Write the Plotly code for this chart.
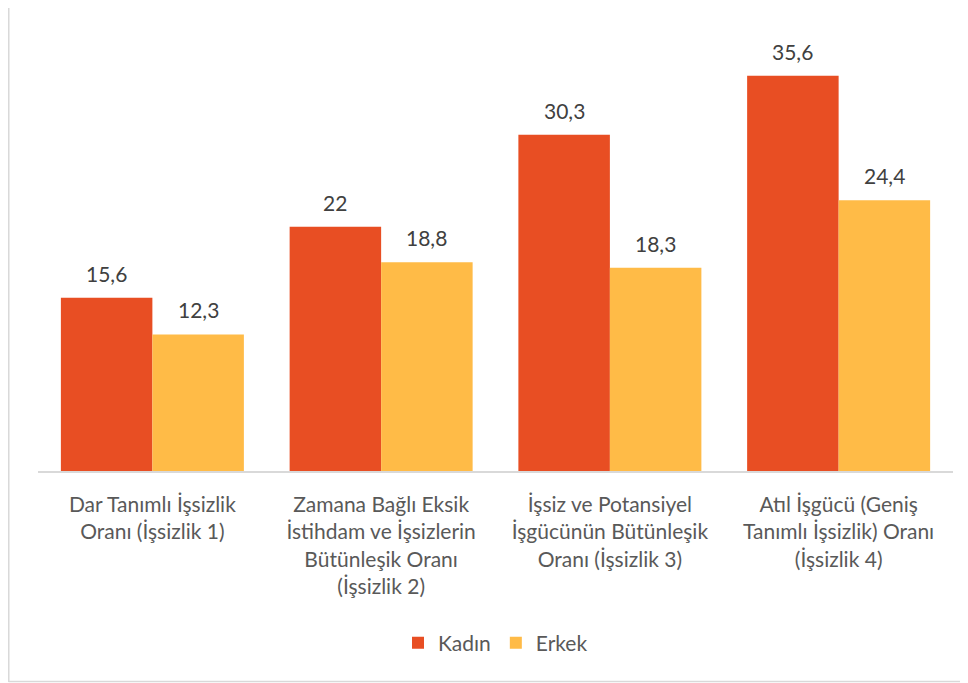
import plotly.graph_objects as go

categories = [
    "Dar Tanımlı İşsizlik<br>Oranı (İşsizlik 1)",
    "Zamana Bağlı Eksik<br>İstihdam ve İşsizlerin<br>Bütünleşik Oranı<br>(İşsizlik 2)",
    "İşsiz ve Potansiyel<br>İşgücünün Bütünleşik<br>Oranı (İşsizlik 3)",
    "Atıl İşgücü (Geniş<br>Tanımlı İşsizlik) Oranı<br>(İşsizlik 4)",
]
kadin = [15.6, 22, 30.3, 35.6]
erkek = [12.3, 18.8, 18.3, 24.4]
series_names = ["Kadın", "Erkek"]
colors = ["#E84E23", "#FFBB47"]

FONT = "Lato"
FS = 21
OFF = 8  # page body margin
W, H = 960, 675
ML, MR, MT, MB = 37.5 - OFF, 14.5, 27 - OFF, (OFF + 675) - 471

def fmt(v):
    return f"{v:g}".replace(".", ",")

fig = go.Figure()
for name, vals, col in zip(series_names, [kadin, erkek], colors):
    fig.add_trace(go.Bar(
        name=name, x=categories, y=vals, marker_color=col,
        marker_line_width=0, hoverinfo="skip",
    ))

plot_w = W - ML - MR
plot_h = H - MT - MB
cat_w = plot_w / len(categories)
bar_w = cat_w * 0.8 / 2
annotations = []
for si, vals in enumerate([kadin, erkek]):
    shift = (si - 0.5) * bar_w
    for c, v in zip(categories, vals):
        annotations.append(dict(
            x=c, y=v, xref="x", yref="y", text=fmt(v), showarrow=False,
            xshift=shift, yshift=10, yanchor="bottom",
            font=dict(family=FONT, size=FS, color="#404040"),
        ))

def px_x(page_x):
    return (page_x - OFF - ML) / plot_w

def px_y(page_y):
    return ((H - MB) - (page_y - OFF)) / plot_h

shapes = [
    dict(type="line", xref="paper", yref="paper",
         x0=px_x(8), x1=px_x(8), y0=px_y(0), y1=px_y(682),
         line=dict(color="#D9D9D9", width=2), layer="below"),
    dict(type="line", xref="paper", yref="paper",
         x0=px_x(8), x1=px_x(968), y0=px_y(681.5), y1=px_y(681.5),
         line=dict(color="#D9D9D9", width=1.5), layer="below"),
]

fig.update_layout(
    width=W, height=H,
    margin=dict(l=ML, r=MR, t=MT, b=MB, pad=0, autoexpand=False),
    paper_bgcolor="white", plot_bgcolor="white",
    barmode="group", bargap=0.2, bargroupgap=0,
    font=dict(family=FONT, size=FS, color="#595959"),
    xaxis=dict(
        showline=True, linecolor="#D9D9D9", linewidth=1.5,
        ticks="", showgrid=False, ticklabelstandoff=14, automargin=False,
        tickfont=dict(family=FONT, size=FS, color="#595959"),
    ),
    yaxis=dict(range=[0, 40], visible=False, showgrid=False, zeroline=False,
               automargin=False),
    legend=dict(
        orientation="h", x=0.5, xanchor="center", y=px_y(643),
        yanchor="middle", font=dict(family=FONT, size=FS, color="#595959"),
        itemwidth=30, traceorder="normal",
    ),
    annotations=annotations,
    shapes=shapes,
    showlegend=True,
)

fig.write_html("out.html")
